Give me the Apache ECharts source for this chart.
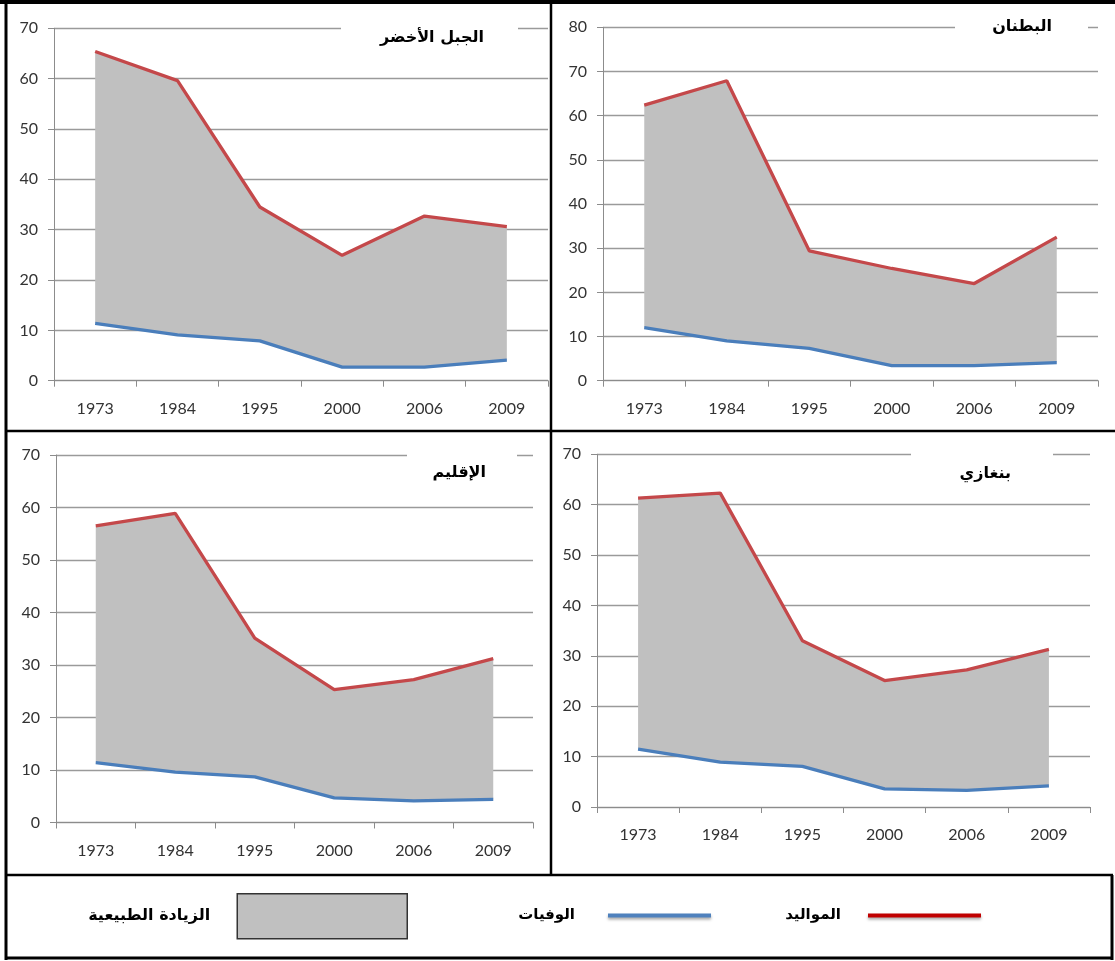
<!DOCTYPE html>
<html><head><meta charset="utf-8">
<script src="https://cdn.jsdelivr.net/npm/echarts@6/dist/echarts.min.js"></script>
<style>html,body{margin:0;padding:0;background:#fff}#c{width:1115px;height:961px}</style>
</head><body><div id="c"></div>
<script>
// ---- data ----
const years = ['1973', '1984', '1995', '2000', '2006', '2009'];
const panelTitles = ['الجبل الأخضر', 'البطنان', 'الإقليم', 'بنغازي'];
const nameBirths = 'المواليد';
const nameDeaths = 'الوفيات';
const nameIncrease = 'الزيادة الطبيعية';

const birthsJabal = [65.4, 59.6, 34.5, 24.9, 32.7, 30.6];
const deathsJabal = [11.4, 9.1, 7.9, 2.7, 2.7, 4.1];
const birthsButnan = [62.4, 67.9, 29.4, 25.4, 22.0, 32.5];
const deathsButnan = [12.0, 9.0, 7.3, 3.4, 3.4, 4.1];
const birthsRegion = [56.5, 58.9, 35.1, 25.3, 27.2, 31.2];
const deathsRegion = [11.4, 9.6, 8.7, 4.7, 4.1, 4.4];
const birthsBenghazi = [61.3, 62.3, 33.0, 25.1, 27.2, 31.3];
const deathsBenghazi = [11.5, 8.9, 8.05, 3.6, 3.3, 4.2];
const yMaxes = [70, 80, 70, 70];
const yInterval = 10;

// ---- layout ----
const panels = [
  { births: birthsJabal, deaths: deathsJabal, grid: { left: 54, top: 28.3, width: 494, height: 352.4 },
    box: [341, 18, 177, 34], title: [484, 38] },
  { births: birthsButnan, deaths: deathsButnan, grid: { left: 603, top: 27.3, width: 495, height: 353.4 },
    box: [955, 11, 133, 34], title: [1052, 27] },
  { births: birthsRegion, deaths: deathsRegion, grid: { left: 56, top: 455, width: 477, height: 367.5 },
    box: [407, 446, 110, 44], title: [486, 473] },
  { births: birthsBenghazi, deaths: deathsBenghazi, grid: { left: 597, top: 454.3, width: 493, height: 352.7 },
    box: [911, 446, 142, 44], title: [1011, 474] }
];

const RED = '#c4484a', BLUE = '#4a7ebb', GRAY = '#c0c0c0';
const axisColor = '#8c8c8c';
const labelStyle = { fontFamily: 'Lato', fontSize: 16, color: '#333' };

const grids = [], xAxes = [], yAxes = [], series = [], graphics = [];
panels.forEach((p, i) => {
  grids.push(Object.assign({ containLabel: false }, p.grid));
  xAxes.push({
    type: 'category', gridIndex: i, data: years, boundaryGap: true,
    axisLine: { lineStyle: { color: axisColor, width: 1 } },
    axisTick: { show: true, length: 6, lineStyle: { color: axisColor } },
    axisLabel: Object.assign({ margin: 20 }, labelStyle),
    splitLine: { show: false }
  });
  yAxes.push({
    type: 'value', gridIndex: i, min: 0, max: yMaxes[i], interval: yInterval,
    axisLine: { show: true, lineStyle: { color: axisColor, width: 1 } },
    axisTick: { show: true, length: 6, lineStyle: { color: axisColor } },
    axisLabel: Object.assign({ margin: 16 }, labelStyle),
    splitLine: { show: true, lineStyle: { color: '#9a9a9a', width: 1.3 } }
  });
  const increase = p.births.map((b, j) => +(b - p.deaths[j]).toFixed(3));
  series.push({
    type: 'line', name: '_base' + i, xAxisIndex: i, yAxisIndex: i, stack: 's' + i,
    data: p.deaths, symbol: 'none', silent: true,
    lineStyle: { opacity: 0 }, areaStyle: { opacity: 0 }, z: 1
  });
  series.push({
    type: 'line', name: nameIncrease, xAxisIndex: i, yAxisIndex: i, stack: 's' + i,
    data: increase, symbol: 'none', color: GRAY, itemStyle: { color: GRAY },
    lineStyle: { opacity: 0, width: 0 }, areaStyle: { color: GRAY, opacity: 1 }, z: 1
  });
  series.push({
    type: 'line', name: nameBirths, xAxisIndex: i, yAxisIndex: i, data: p.births,
    symbol: 'none', color: RED, lineStyle: { color: RED, width: 3.3 }, z: 3
  });
  series.push({
    type: 'line', name: nameDeaths, xAxisIndex: i, yAxisIndex: i, data: p.deaths,
    symbol: 'none', color: BLUE, lineStyle: { color: BLUE, width: 3.3 }, z: 3
  });
  graphics.push({ type: 'rect', z: 100, silent: true,
    shape: { x: p.box[0], y: p.box[1], width: p.box[2], height: p.box[3] }, style: { fill: '#fff' } });
  graphics.push({ type: 'text', z: 101, silent: true, x: p.title[0], y: p.title[1],
    style: { text: panelTitles[i], align: 'right', verticalAlign: 'middle',
      font: 'bold 16px "DejaVu Sans"', fill: '#000' } });
});

// frame lines
const lines = [
  [0, 2, 1115, 2, 4],
  [6, 0, 6, 960, 3],
  [551, 0, 551, 875, 2.5],
  [6, 431, 1115, 431, 2.5],
  [6, 875, 1113, 875, 2.5],
  [6, 958, 1113, 958, 3],
  [1112, 875, 1112, 960, 3]
];
lines.forEach(l => graphics.push({ type: 'line', z: 100, silent: true,
  shape: { x1: l[0], y1: l[1], x2: l[2], y2: l[3] }, style: { stroke: '#000', lineWidth: l[4] } }));

const legendText = { fontFamily: 'DejaVu Sans', fontWeight: 'bold', fontSize: 15, color: '#000' };
const chart = echarts.init(document.getElementById('c'), null, { renderer: 'canvas' });
chart.setOption({
  animation: false,
  backgroundColor: '#fff',
  grid: grids, xAxis: xAxes, yAxis: yAxes, series: series, graphic: graphics,
  legend: [
    { data: [{ name: nameIncrease, icon: 'rect', itemStyle: { color: GRAY, borderColor: '#333', borderWidth: 1.5 } }],
      right: 707, top: 893, itemWidth: 170, itemHeight: 45, align: 'right', padding: 0, selectedMode: false,
      textStyle: Object.assign({ padding: [0, 22, 0, 0] }, legendText, { fontSize: 16 }) },
    { data: [{ name: nameDeaths, icon: 'rect', itemStyle: { color: '#4f81bd', shadowBlur: 3, shadowColor: 'rgba(0,0,0,0.35)', shadowOffsetY: 2 } }],
      right: 404, top: 908, itemWidth: 103, itemHeight: 4, align: 'right', padding: 0, selectedMode: false,
      textStyle: Object.assign({ padding: [0, 28, 0, 0] }, legendText) },
    { data: [{ name: nameBirths, icon: 'rect', itemStyle: { color: '#c00000', shadowBlur: 3, shadowColor: 'rgba(0,0,0,0.35)', shadowOffsetY: 2 } }],
      right: 134, top: 908, itemWidth: 113, itemHeight: 4, align: 'right', padding: 0, selectedMode: false,
      textStyle: Object.assign({ padding: [0, 22, 0, 0] }, legendText) }
  ]
});
</script></body></html>
